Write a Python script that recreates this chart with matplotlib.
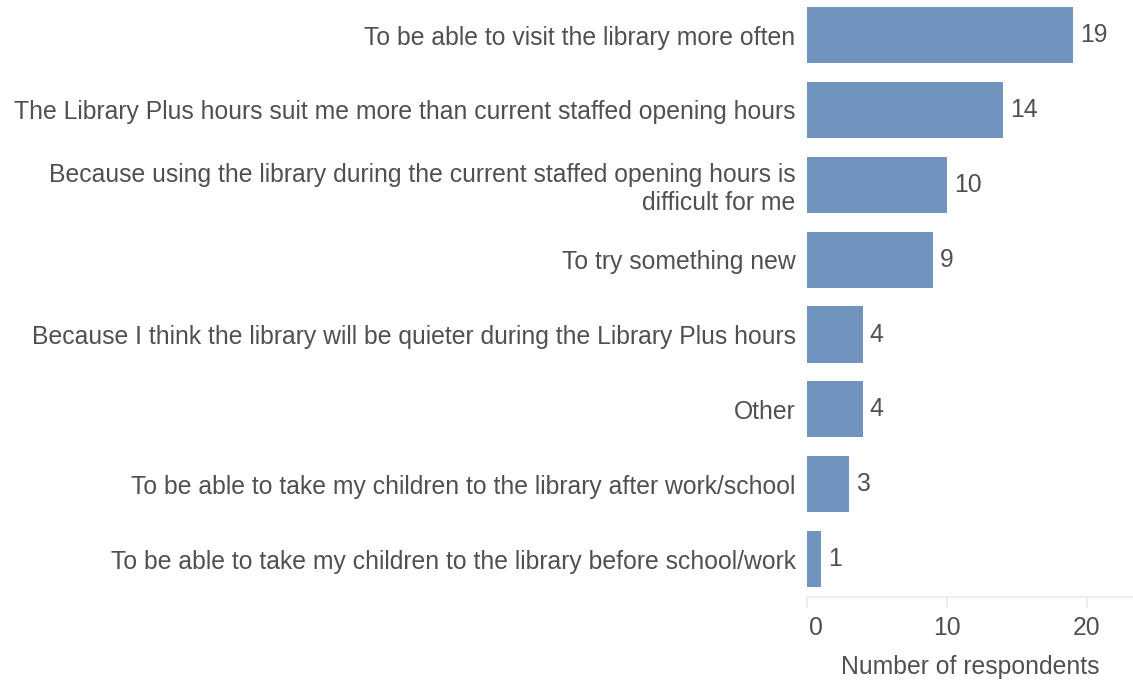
import matplotlib
matplotlib.use("Agg")
import matplotlib.pyplot as plt
from matplotlib.transforms import ScaledTranslation

reasons = [
    "To be able to visit the library more often",
    "The Library Plus hours suit me more than current staffed opening hours",
    "Because using the library during the current staffed opening hours is\ndifficult for me",
    "To try something new",
    "Because I think the library will be quieter during the Library Plus hours",
    "Other",
    "To be able to take my children to the library after work/school",
    "To be able to take my children to the library before school/work",
]
respondents = [19, 14, 10, 9, 4, 4, 3, 1]
x_ticks = [0, 10, 20]

text_color = "#505050"
bar_color = "#7094BE"
axis_color = "#EBEBEB"
fs = 17.8

plt.rcParams["font.family"] = ["Liberation Sans", "DejaVu Sans"]

W, H = 1133, 681
fig = plt.figure(figsize=(W / 100, H / 100), dpi=100)
left_px, top_px, bottom_px = 806.7, -2.4, 596.6
ax = fig.add_axes([left_px / W, (H - bottom_px) / H, 1 - left_px / W,
                   (bottom_px - top_px) / H])

ypos = list(range(len(reasons)))
ax.barh(ypos, respondents, height=0.75, color=bar_color, edgecolor="none")

for y, v in zip(ypos, respondents):
    ax.annotate(str(v), xy=(v, y), xytext=(5, 0), textcoords="offset points",
                ha="left", va="center", fontsize=fs, color=text_color)

ax.set_ylim(len(reasons) - 0.5, -0.5)
ax.set_xlim(0, 23.3)
ax.set_yticks(ypos)
ax.set_yticklabels(reasons, fontsize=fs, color=text_color, ha="right",
                   multialignment="right")
ax.tick_params(axis="y", length=0, pad=8)
ax.set_xticks(x_ticks)
ax.set_xticklabels([str(t) for t in x_ticks], fontsize=fs, color=text_color)
ax.tick_params(axis="x", length=8, width=1.2, color=axis_color, pad=6)
ax.set_xlabel("Number of respondents", fontsize=fs, color=text_color, labelpad=10.5)

# keep the zero label clear of the axis start
zero_label = ax.get_xticklabels()[0]
zero_label.set_transform(zero_label.get_transform()
                         + ScaledTranslation(9 / 100, 0, fig.dpi_scale_trans))

for side in ["top", "right", "left"]:
    ax.spines[side].set_visible(False)
ax.spines["bottom"].set_color(axis_color)
ax.spines["bottom"].set_linewidth(1.2)

fig.savefig("out.png", dpi=100)
